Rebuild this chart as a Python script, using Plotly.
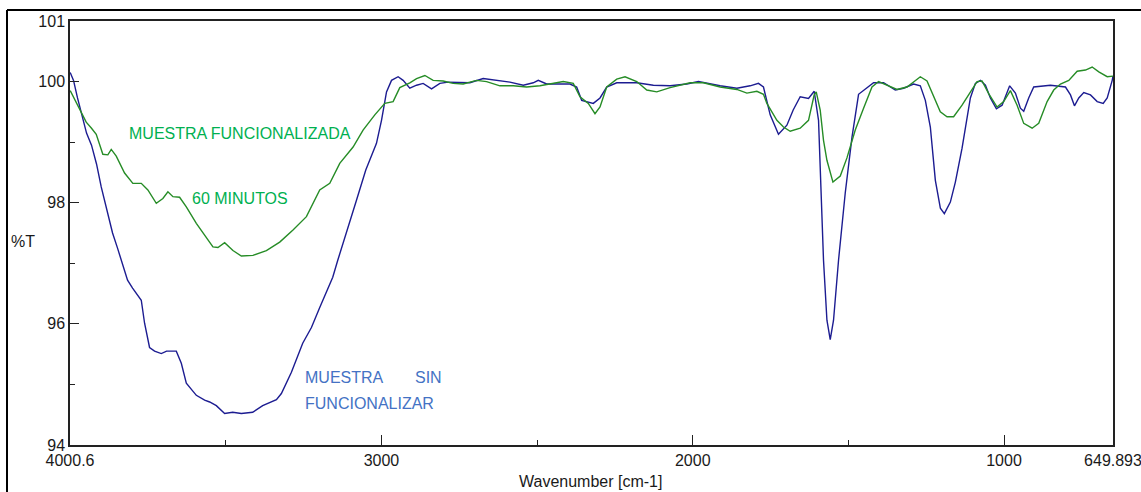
import plotly.graph_objects as go

# FTIR spectra, wavenumber (cm-1) vs transmittance (%T)
wn_sin = [4000.0, 3989.3, 3976.5, 3960.4, 3947.5, 3931.5, 3915.4, 3900.3, 3889.7, 3873.6,
          3863.9, 3847.9, 3831.8, 3815.7, 3799.6, 3771.6, 3761.0, 3745.0, 3728.9, 3707.3,
          3690.3, 3659.1, 3643.0, 3626.9, 3594.8, 3568.1, 3552.0, 3530.5, 3503.8, 3478.1,
          3450.1, 3413.8, 3381.6, 3337.5, 3321.5, 3289.3, 3253.0, 3225.0, 3198.3, 3156.5,
          3140.4, 3112.4, 3080.3, 3050.4, 3016.0, 2999.9, 2983.8, 2967.7, 2946.5, 2930.4,
          2908.9, 2887.3, 2866.1, 2839.1, 2812.4, 2785.7, 2748.1, 2716.0, 2673.2, 2630.1,
          2587.3, 2544.6, 2512.4, 2496.3, 2469.3, 2394.4, 2372.9, 2356.8, 2340.7, 2319.5,
          2297.9, 2276.4, 2244.2, 2179.9, 2126.5, 2072.8, 2019.1, 1981.8, 1912.0, 1858.3,
          1815.6, 1788.9, 1772.8, 1751.2, 1724.6, 1697.5, 1677.3, 1654.8, 1628.1, 1609.8,
          1595.9, 1588.2, 1579.9, 1568.9, 1558.3, 1547.7, 1531.6, 1510.1, 1488.5, 1467.3,
          1440.3, 1419.1, 1386.9, 1349.3, 1322.6, 1290.5, 1268.9, 1252.8, 1236.7, 1220.6,
          1204.5, 1191.7, 1172.4, 1156.3, 1134.8, 1108.1, 1092.0, 1075.9, 1059.8, 1043.8,
          1024.5, 1006.2, 981.8, 963.4, 947.4, 936.7, 920.7, 904.6, 850.9, 802.6,
          786.5, 773.7, 759.8, 743.8, 722.2, 700.7, 681.4, 668.5, 652.4, 649.9]
t_sin = [100.15, 100.02, 99.73, 99.40, 99.15, 98.95, 98.64, 98.26, 98.04, 97.71,
         97.50, 97.25, 96.97, 96.72, 96.59, 96.39, 96.01, 95.61, 95.55, 95.51,
         95.55, 95.55, 95.35, 95.02, 94.82, 94.74, 94.71, 94.65, 94.52, 94.54,
         94.52, 94.54, 94.65, 94.75, 94.85, 95.20, 95.68, 95.94, 96.27, 96.77,
         97.05, 97.50, 98.04, 98.54, 98.98, 99.36, 99.83, 100.02, 100.08, 100.02,
         99.89, 99.94, 99.97, 99.88, 99.97, 99.99, 99.98, 99.98, 100.05, 100.02,
         99.99, 99.94, 99.98, 100.02, 99.96, 99.96, 99.91, 99.69, 99.67, 99.64,
         99.73, 99.91, 99.98, 99.98, 99.94, 99.93, 99.96, 100.00, 99.93, 99.89,
         99.93, 99.97, 99.91, 99.45, 99.13, 99.28, 99.53, 99.75, 99.72, 99.84,
         99.36, 98.16, 97.05, 96.06, 95.74, 96.06, 97.05, 98.16, 99.08, 99.79,
         99.89, 99.98, 99.98, 99.86, 99.89, 99.96, 99.93, 99.69, 99.25, 98.37,
         97.91, 97.82, 98.01, 98.34, 98.90, 99.73, 99.97, 100.02, 99.94, 99.73,
         99.55, 99.61, 99.93, 99.81, 99.56, 99.51, 99.73, 99.91, 99.94, 99.91,
         99.78, 99.60, 99.73, 99.82, 99.78, 99.67, 99.64, 99.73, 100.02, 100.09]

wn_func = [4000.0, 3989.3, 3970.1, 3948.5, 3931.5, 3916.3, 3895.1, 3879.0, 3868.1, 3852.0,
           3825.3, 3798.7, 3771.6, 3750.4, 3723.4, 3702.2, 3686.1, 3670.0, 3648.5, 3626.9,
           3594.8, 3562.6, 3541.4, 3525.3, 3503.8, 3477.1, 3450.1, 3412.8, 3369.7, 3326.9,
           3284.2, 3241.1, 3198.3, 3166.1, 3134.0, 3091.2, 3059.1, 3021.4, 2989.3, 2962.6,
           2941.1, 2908.9, 2887.3, 2860.6, 2834.0, 2801.8, 2769.7, 2737.5, 2694.4, 2662.3,
           2619.5, 2576.7, 2533.7, 2490.9, 2448.1, 2415.9, 2383.8, 2362.2, 2335.5, 2314.0,
           2297.9, 2276.4, 2244.2, 2217.5, 2179.9, 2147.7, 2115.6, 2072.8, 2008.5, 1965.7,
           1912.0, 1858.3, 1826.1, 1794.0, 1772.8, 1761.8, 1729.7, 1708.5, 1686.9, 1654.8,
           1628.1, 1609.8, 1603.3, 1590.5, 1579.9, 1568.9, 1549.6, 1526.1, 1504.6, 1477.9,
           1451.2, 1424.2, 1403.0, 1376.0, 1343.8, 1311.7, 1268.9, 1247.4, 1226.2, 1204.7,
           1183.1, 1161.9, 1134.8, 1108.1, 1086.6, 1070.5, 1049.3, 1022.3, 1001.1, 979.5,
           958.0, 936.7, 909.7, 888.5, 861.5, 840.3, 818.7, 792.0, 765.0, 738.3,
           716.8, 695.5, 668.5, 649.9]
t_func = [99.85, 99.74, 99.53, 99.33, 99.23, 99.13, 98.80, 98.79, 98.88, 98.77,
          98.49, 98.32, 98.32, 98.21, 97.99, 98.07, 98.18, 98.10, 98.09, 97.93,
          97.66, 97.43, 97.27, 97.26, 97.34, 97.21, 97.12, 97.13, 97.21, 97.35,
          97.55, 97.77, 98.21, 98.32, 98.65, 98.92, 99.20, 99.45, 99.64, 99.67,
          99.90, 99.98, 100.05, 100.10, 100.02, 100.01, 99.97, 99.96, 100.02, 100.00,
          99.93, 99.93, 99.91, 99.93, 99.97, 100.00, 99.97, 99.75, 99.64, 99.47,
          99.58, 99.91, 100.04, 100.08, 100.00, 99.86, 99.83, 99.90, 99.98, 99.98,
          99.91, 99.87, 99.81, 99.84, 99.79, 99.64, 99.36, 99.25, 99.18, 99.23,
          99.36, 99.78, 99.83, 99.53, 99.03, 98.70, 98.34, 98.44, 98.74, 99.20,
          99.56, 99.91, 100.00, 99.94, 99.87, 99.91, 100.08, 100.01, 99.75, 99.50,
          99.42, 99.42, 99.61, 99.83, 100.00, 100.01, 99.80, 99.58, 99.67, 99.85,
          99.61, 99.31, 99.23, 99.31, 99.67, 99.86, 99.96, 100.02, 100.17, 100.19,
          100.24, 100.16, 100.08, 100.09]

x_tick_vals = [4000.6, 3000, 2000, 1000, 649.893]
x_tick_text = ["4000.6", "3000", "2000", "1000", "649.893"]
x_minor_vals = [3500, 2500, 1500]
y_tick_vals = [94, 96, 98, 100, 101]
y_tick_text = ["94", "96", "98", "100", "101"]
y_minor_vals = [95, 97, 99]

FONT = "Liberation Sans, Arial, sans-serif"
LINE_SIN = "rgb(28,28,145)"
LINE_FUNC = "rgb(38,140,38)"
TXT_GREEN = "#00B050"
TXT_BLUE = "#4472C4"

fig = go.Figure()
fig.add_trace(go.Scatter(x=wn_sin, y=t_sin, mode="lines",
                         line=dict(color=LINE_SIN, width=1.4),
                         name="MUESTRA SIN FUNCIONALIZAR"))
fig.add_trace(go.Scatter(x=wn_func, y=t_func, mode="lines",
                         line=dict(color=LINE_FUNC, width=1.4),
                         name="MUESTRA FUNCIONALIZADA 60 MINUTOS"))

axis_common = dict(showline=True, mirror=True, linecolor="#222222", linewidth=1.5,
                   showgrid=False, zeroline=False, ticks="inside", tickcolor="#222222",
                   tickwidth=1, automargin=False,
                   tickfont=dict(family=FONT, size=16, color="#1a1a1a"))

fig.update_xaxes(range=[4000.6, 649.893], tickmode="array", tickvals=x_tick_vals,
                 ticktext=x_tick_text, ticklen=10, ticklabeloverflow="allow",
                 minor=dict(tickmode="array", tickvals=x_minor_vals, ticks="inside",
                            ticklen=5, tickcolor="#222222"),
                 **axis_common)
fig.update_yaxes(range=[94, 101], tickmode="array", tickvals=y_tick_vals,
                 ticktext=y_tick_text, ticklen=9,
                 minor=dict(tickmode="array", tickvals=y_minor_vals, ticks="inside",
                            ticklen=5, tickcolor="#222222"),
                 **axis_common)

def note(text, x, y, color, xanchor="left", size=16):
    fig.add_annotation(text=text, x=x, y=y, xref="paper", yref="paper",
                       xanchor=xanchor, yanchor="middle", showarrow=False,
                       font=dict(family=FONT, size=size, color=color))

note("MUESTRA FUNCIONALIZADA", 0.0546, 0.735, TXT_GREEN)
note("60 MINUTOS", 0.1150, 0.581, TXT_GREEN)
note("MUESTRA", 0.2234, 0.160, TXT_BLUE)
note("SIN", 0.3290, 0.160, TXT_BLUE)
note("FUNCIONALIZAR", 0.2234, 0.097, TXT_BLUE)
note("%T", -0.045, 0.479, "#1a1a1a", xanchor="center")
note("Wavenumber [cm-1]", 0.4986, -0.087, "#1a1a1a", xanchor="center")

# outer frame (top and left edges)
fig.add_shape(type="line", xref="paper", yref="paper", x0=-0.0604, x1=1.05,
              y0=1.026, y1=1.026, line=dict(color="black", width=2))
fig.add_shape(type="line", xref="paper", yref="paper", x0=-0.0604, x1=-0.0604,
              y0=1.026, y1=-0.15, line=dict(color="black", width=2))

fig.update_layout(width=1141, height=492, margin=dict(l=70, r=28, t=21, b=47),
                  paper_bgcolor="white", plot_bgcolor="white", showlegend=False)

fig.write_html("out.html")
